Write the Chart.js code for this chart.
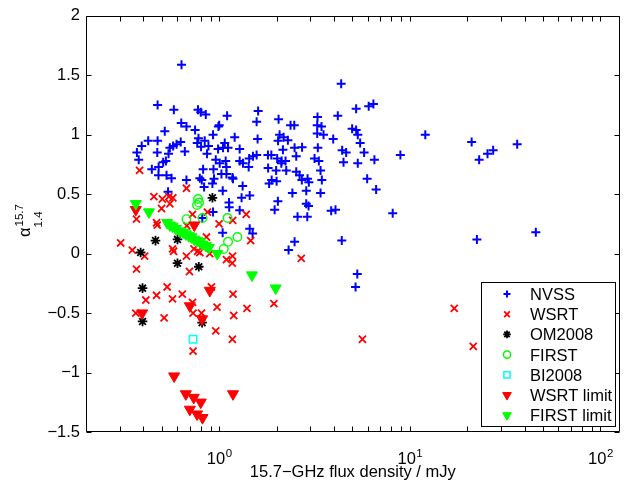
<!DOCTYPE html>
<html>
<head>
<meta charset="utf-8">
<script src="https://cdn.jsdelivr.net/npm/chart.js@4.4.0/dist/chart.umd.min.js"></script>
<style>
  html, body { margin: 0; padding: 0; background: #fff; }
  canvas { display: block; }
</style>
</head>
<body>
<canvas id="alphaChart" width="627" height="485"></canvas>
<script>
// NVSS spectral indices (15.7 GHz flux in mJy, alpha 1.4->15.7)
const nvssFlux = [0.634, 0.475, 0.578, 0.774, 0.800, 0.850, 1.10, 0.632, 0.673, 0.518, 0.747, 0.990, 1.00, 0.928,
  0.424, 0.475, 0.778, 0.628, 0.392, 0.573, 0.597, 0.551, 0.767, 0.839, 0.803, 0.878, 1.069, 0.986, 1.047, 1.112,
  1.28, 0.370, 0.473, 0.542, 0.660, 0.863, 0.378, 0.525, 0.508, 0.959, 1.006, 1.081, 0.443, 0.481, 0.823, 0.933,
  0.480, 0.529, 0.562, 0.791, 0.810, 0.939, 0.921, 1.027, 1.091, 0.673, 0.833, 1.043, 0.539, 1.091, 1.172, 1.327,
  1.28, 1.332, 1.436, 1.503, 1.571, 1.801, 1.876, 2.013, 1.805, 1.988, 1.884, 1.827, 2.0, 1.60, 1.571, 2.048,
  2.367, 2.475, 3.278, 3.266, 3.44, 3.266, 3.524, 3.961, 1.205, 1.59, 2.073, 2.176, 2.292, 2.036, 2.158, 2.485,
  2.72, 3.29, 2.535, 3.162, 3.331, 1.427, 2.125, 2.228, 2.117, 2.247, 2.535, 2.639, 2.907, 2.713, 2.952, 3.40,
  3.453, 1.181, 2.861, 3.40, 2.42, 4.362, 5.227, 6.083, 6.439, 4.188, 4.98, 5.227, 12.05, 5.33, 5.486, 21.1,
  4.415, 4.634, 5.755, 8.92, 4.487, 5.33, 6.518, 5.97, 6.653, 2.031, 1.953, 2.861, 2.942, 3.866, 4.073, 8.128,
  2.575, 2.896, 2.485, 4.394, 2.311, 27.35, 25.55, 23.1, 36.56, 45.8, 22.48, 1.445, 1.31, 1.125, 1.128, 0.928,
  1.28, 1.445, 1.497, 1.042, 0.815, 5.3, 5.19];
const nvssAlpha = [1.59, 1.25, 1.21, 1.21, 1.19, 1.17, 1.16, 1.10, 1.07, 1.03, 1.04, 1.07, 1.08, 1.00,
  0.95, 0.95, 0.97, 0.94, 0.905, 0.905, 0.92, 0.89, 0.93, 0.95, 0.90, 0.905, 0.93, 0.88, 0.89, 0.89,
  0.88, 0.85, 0.85, 0.84, 0.86, 0.84, 0.79, 0.78, 0.77, 0.79, 0.76, 0.78, 0.71, 0.73, 0.71, 0.71,
  0.66, 0.66, 0.635, 0.635, 0.62, 0.63, 0.59, 0.67, 0.67, 0.62, 0.56, 0.53, 0.52, 0.73, 0.64, 0.57,
  0.78, 0.76, 0.80, 0.82, 0.83, 0.83, 0.83, 0.80, 0.72, 0.70, 0.62, 0.59, 0.61, 1.20, 1.11, 1.13,
  1.08, 1.08, 1.15, 1.08, 1.07, 1.01, 1.00, 0.965, 0.98, 0.965, 1.00, 0.98, 0.955, 0.95, 0.875, 0.89,
  0.895, 0.89, 0.82, 0.80, 0.78, 0.73, 0.78, 0.78, 0.76, 0.70, 0.69, 0.66, 0.63, 0.62, 0.60, 0.70,
  0.62, 0.63, 0.53, 0.51, 0.51, 1.43, 1.22, 1.24, 1.26, 1.16, 1.05, 1.04, 1.00, 1.00, 0.93, 0.94,
  0.87, 0.85, 0.85, 0.83, 0.77, 0.76, 0.79, 0.63, 0.54, 0.44, 0.37, 0.42, 0.40, 0.36, 0.37, 0.34,
  0.31, 0.31, 0.10, 0.11, 0.03, 0.87, 0.84, 0.79, 0.92, 0.18, 0.12, 0.49, 0.47, 0.43, 0.39, 0.35,
  0.365, 0.21, 0.17, 0.175, 0.30, -0.17, -0.28];

// WSRT spectral indices
const wsrtFlux = [0.382, 0.673, 0.454, 0.503, 0.544, 0.571, 0.551, 0.498, 0.368, 0.469, 0.473, 0.724, 0.867,
  0.998, 0.676, 0.857, 0.304, 0.350, 0.406, 0.569, 0.576, 0.737, 0.770, 0.791, 0.673, 0.892, 1.091, 0.368,
  0.698, 0.533, 0.469, 0.640, 1.385, 1.177, 1.462, 2.693, 1.175, 1.170, 1.181, 0.910, 0.412, 0.569, 0.724,
  0.729, 0.974, 1.398, 1.936, 0.365, 0.514, 0.807, 1.191, 0.959, 1.172, 0.729, 5.64, 17.1, 21.5];
const wsrtAlpha = [0.70, 0.55, 0.48, 0.46, 0.48, 0.47, 0.42, 0.38, 0.29, 0.26, 0.24, 0.33, 0.35,
  0.25, 0.235, 0.14, 0.09, 0.03, -0.02, 0.04, 0.02, 0.04, 0.02, 0.01, -0.02, 0.00, -0.05, -0.13,
  -0.15, -0.28, -0.35, -0.34, 0.33, 0.28, 0.11, -0.04, -0.02, -0.08, -0.34, -0.28, -0.39, -0.38, -0.41,
  -0.50, -0.45, -0.46, -0.42, -0.50, -0.54, -0.50, -0.52, -0.65, -0.72, -0.82, -0.72, -0.46, -0.78];

// OM2008
const omFlux = [0.921, 0.463, 0.604, 0.387, 0.604, 0.781, 0.396, 0.396, 0.813];
const omAlpha = [0.47, 0.11, 0.12, 0.01, -0.08, -0.11, -0.29, -0.57, -0.58];

// FIRST
const firstFlux = [0.774, 0.784, 0.765, 0.673, 0.817, 1.105, 1.245, 1.112, 1.056];
const firstAlpha = [0.46, 0.43, 0.41, 0.29, 0.30, 0.30, 0.14, 0.10, 0.04];

// BI2008
const biFlux = [0.729];
const biAlpha = [-0.72];

// WSRT upper limits
const wsrtLimFlux = [0.365, 0.740, 0.892, 0.701, 0.394, 0.813, 0.580, 0.668, 0.735, 0.800, 1.181, 0.701, 0.765, 0.817];
const wsrtLimAlpha = [0.37, 0.24, -0.31, -0.44, -0.50, -0.55, -1.03, -1.18, -1.21, -1.25, -1.18, -1.31, -1.35, -1.38];

// FIRST upper limits
const firstLimFlux = [0.365, 0.428, 0.533, 0.551, 0.569, 0.592, 0.621, 0.646, 0.668, 0.692, 0.714, 0.740,
  0.765, 0.791, 0.815, 0.850, 0.881, 0.976, 1.485, 1.977];
const firstLimAlpha = [0.42, 0.35, 0.26, 0.24, 0.23, 0.21, 0.19, 0.18, 0.165, 0.15, 0.14, 0.12,
  0.11, 0.10, 0.08, 0.07, 0.05, 0.00, -0.18, -0.29];

const yTickValues = [-1.5, -1, -0.5, 0, 0.5, 1, 1.5, 2];
const xMajorTicks = [1, 10, 100];
const xMajorExponents = ['0', '1', '2'];
const xLabel = '15.7\u2212GHz flux density / mJy';

const FONT = '"Liberation Sans", Arial, Helvetica, sans-serif';

function pts(xs, ys) {
  return xs.map((v, i) => ({ x: v, y: ys[i] }));
}

const seriesDefs = [
  { label: 'NVSS', xs: nvssFlux, ys: nvssAlpha, style: 'cross', r: 4.5, color: '#0000ff', fill: false, lw: 2, lr: 3.5 },
  { label: 'WSRT', xs: wsrtFlux, ys: wsrtAlpha, style: 'crossRot', r: 5, color: '#ff0000', fill: false, lw: 1.8, lr: 4 },
  { label: 'OM2008', xs: omFlux, ys: omAlpha, style: 'star', r: 4.8, color: '#000000', fill: false, lw: 1.8, lr: 3.8 },
  { label: 'FIRST', xs: firstFlux, ys: firstAlpha, style: 'circle', r: 4.3, color: '#00ff00', fill: false, lw: 1.4, lr: 3.6 },
  { label: 'BI2008', xs: biFlux, ys: biAlpha, style: 'rect', r: 5.2, color: '#00ffff', fill: false, lw: 1.5, lr: 4.4 },
  { label: 'WSRT limit', xs: wsrtLimFlux, ys: wsrtLimAlpha, style: 'triangle', r: 6.4, color: '#ff0000', fill: true, lw: 1, lr: 5 },
  { label: 'FIRST limit', xs: firstLimFlux, ys: firstLimAlpha, style: 'triangle', r: 6.4, color: '#00ff00', fill: true, lw: 1, lr: 5 }
];

const datasets = seriesDefs.map((s, i) => ({
  label: s.label,
  data: pts(s.xs, s.ys),
  pointStyle: s.style,
  pointRadius: s.r,
  pointRotation: s.style === 'triangle' ? 180 : 0,
  borderColor: s.color,
  backgroundColor: s.fill ? s.color : 'rgba(0,0,0,0)',
  borderWidth: s.lw,
  order: seriesDefs.length - i
}));

function fmtY(v) {
  if (v === 0) return '0';
  return (v < 0 ? '\u2212' : '') + String(Math.abs(v));
}

// own marker drawing for the legend box
function legendMarker(ctx, s, x, y) {
  const r = s.lr;
  ctx.save();
  ctx.strokeStyle = s.color;
  ctx.fillStyle = s.color;
  ctx.lineWidth = s.lw;
  ctx.beginPath();
  if (s.style === 'cross' || s.style === 'star') {
    ctx.moveTo(x - r, y); ctx.lineTo(x + r, y);
    ctx.moveTo(x, y - r); ctx.lineTo(x, y + r);
  }
  if (s.style === 'crossRot' || s.style === 'star') {
    const d = r * 0.707;
    ctx.moveTo(x - d, y - d); ctx.lineTo(x + d, y + d);
    ctx.moveTo(x - d, y + d); ctx.lineTo(x + d, y - d);
  }
  if (s.style === 'circle') ctx.arc(x, y, r, 0, Math.PI * 2);
  if (s.style === 'rect') { const h = r * 0.707; ctx.rect(x - h, y - h, 2 * h, 2 * h); }
  if (s.style === 'triangle') {
    ctx.moveTo(x, y + r);
    ctx.lineTo(x - r * 0.866, y - r * 0.5);
    ctx.lineTo(x + r * 0.866, y - r * 0.5);
    ctx.closePath();
  }
  if (s.fill) ctx.fill();
  ctx.stroke();
  ctx.restore();
}

const frame = {
  id: 'frame',
  afterDatasetsDraw(chart) {
    const { ctx, chartArea: a, scales: { x, y } } = chart;
    const L = Math.round(a.left) + 0.5, R = Math.round(a.right) - 0.5;
    const T = Math.round(a.top) + 0.5, B = Math.round(a.bottom) - 0.5;
    const tl = 5;
    ctx.save();
    ctx.strokeStyle = '#000';
    ctx.lineWidth = 1;
    ctx.beginPath();
    ctx.rect(L, T, R - L, B - T);
    // x ticks (log minor + major)
    [0.1, 1, 10, 100].forEach(dec => {
      for (let m = 1; m <= 9; m++) {
        const v = dec * m;
        if (v < 0.2 - 1e-9 || v > 126) continue;
        const px = Math.round(x.getPixelForValue(v)) + 0.5;
        ctx.moveTo(px, B); ctx.lineTo(px, B - tl);
        ctx.moveTo(px, T); ctx.lineTo(px, T + tl);
      }
    });
    yTickValues.forEach(v => {
      const py = Math.round(y.getPixelForValue(v)) + 0.5;
      ctx.moveTo(L, py); ctx.lineTo(L + tl, py);
      ctx.moveTo(R, py); ctx.lineTo(R - tl, py);
    });
    ctx.stroke();

    // x tick labels 10^n
    ctx.fillStyle = '#000';
    ctx.textBaseline = 'alphabetic';
    ctx.textAlign = 'left';
    xMajorTicks.forEach((v, i) => {
      const px = x.getPixelForValue(v);
      ctx.font = '16.5px ' + FONT;
      const wb = ctx.measureText('10').width;
      ctx.font = '11.5px ' + FONT;
      const we = ctx.measureText(xMajorExponents[i]).width;
      const x0 = px - (wb + we) / 2;
      ctx.font = '16.5px ' + FONT;
      ctx.fillText('10', x0, 464);
      ctx.font = '11.5px ' + FONT;
      ctx.fillText(xMajorExponents[i], x0 + wb + 0.5, 457);
    });

    // x axis label
    ctx.font = '16.5px ' + FONT;
    ctx.textAlign = 'center';
    ctx.fillText(xLabel, (a.left + a.right) / 2, 477);

    // y axis label: alpha with sub/superscripts, rotated
    ctx.save();
    ctx.translate(30, 237);
    ctx.rotate(-Math.PI / 2);
    ctx.textAlign = 'left';
    ctx.font = '16.5px ' + FONT;
    ctx.fillText('\u03b1', 0, 0);
    const wa = ctx.measureText('\u03b1').width;
    ctx.font = '11.5px ' + FONT;
    ctx.fillText('15.7', wa + 1, -7);
    ctx.fillText('1.4', wa, 12);
    ctx.restore();

    // legend
    const lx = 481.5, ly = 282.5, lw = 134, lh = 144;
    ctx.fillStyle = '#fff';
    ctx.fillRect(lx, ly, lw, lh);
    ctx.strokeStyle = '#000';
    ctx.lineWidth = 1;
    ctx.strokeRect(lx, ly, lw, lh);
    seriesDefs.forEach((s, i) => {
      const ry = 294 + i * 20.2;
      legendMarker(ctx, s, 507, ry);
      ctx.fillStyle = '#000';
      ctx.font = '16.5px ' + FONT;
      ctx.textAlign = 'left';
      ctx.fillText(s.label, 530, ry + 6);
    });
    ctx.restore();
  }
};

new Chart(document.getElementById('alphaChart'), {
  type: 'scatter',
  data: { datasets: datasets },
  options: {
    responsive: false,
    animation: false,
    events: [],
    layout: { padding: { top: 11, right: 6, left: 0, bottom: 0 } },
    plugins: { legend: { display: false }, tooltip: { enabled: false } },
    scales: {
      x: {
        type: 'logarithmic',
        min: 0.2,
        max: 126,
        grid: { display: false, drawTicks: false },
        border: { display: false },
        ticks: { display: false },
        afterFit: s => { s.height = 53; }
      },
      y: {
        min: -1.5,
        max: 2,
        grid: { display: false, drawTicks: false },
        border: { display: false },
        ticks: {
          stepSize: 0.5,
          padding: 6,
          color: '#000',
          font: { family: FONT, size: 16.5 },
          callback: v => fmtY(v)
        },
        afterFit: s => { s.width = 86; }
      }
    }
  },
  plugins: [frame]
});
</script>
</body>
</html>
